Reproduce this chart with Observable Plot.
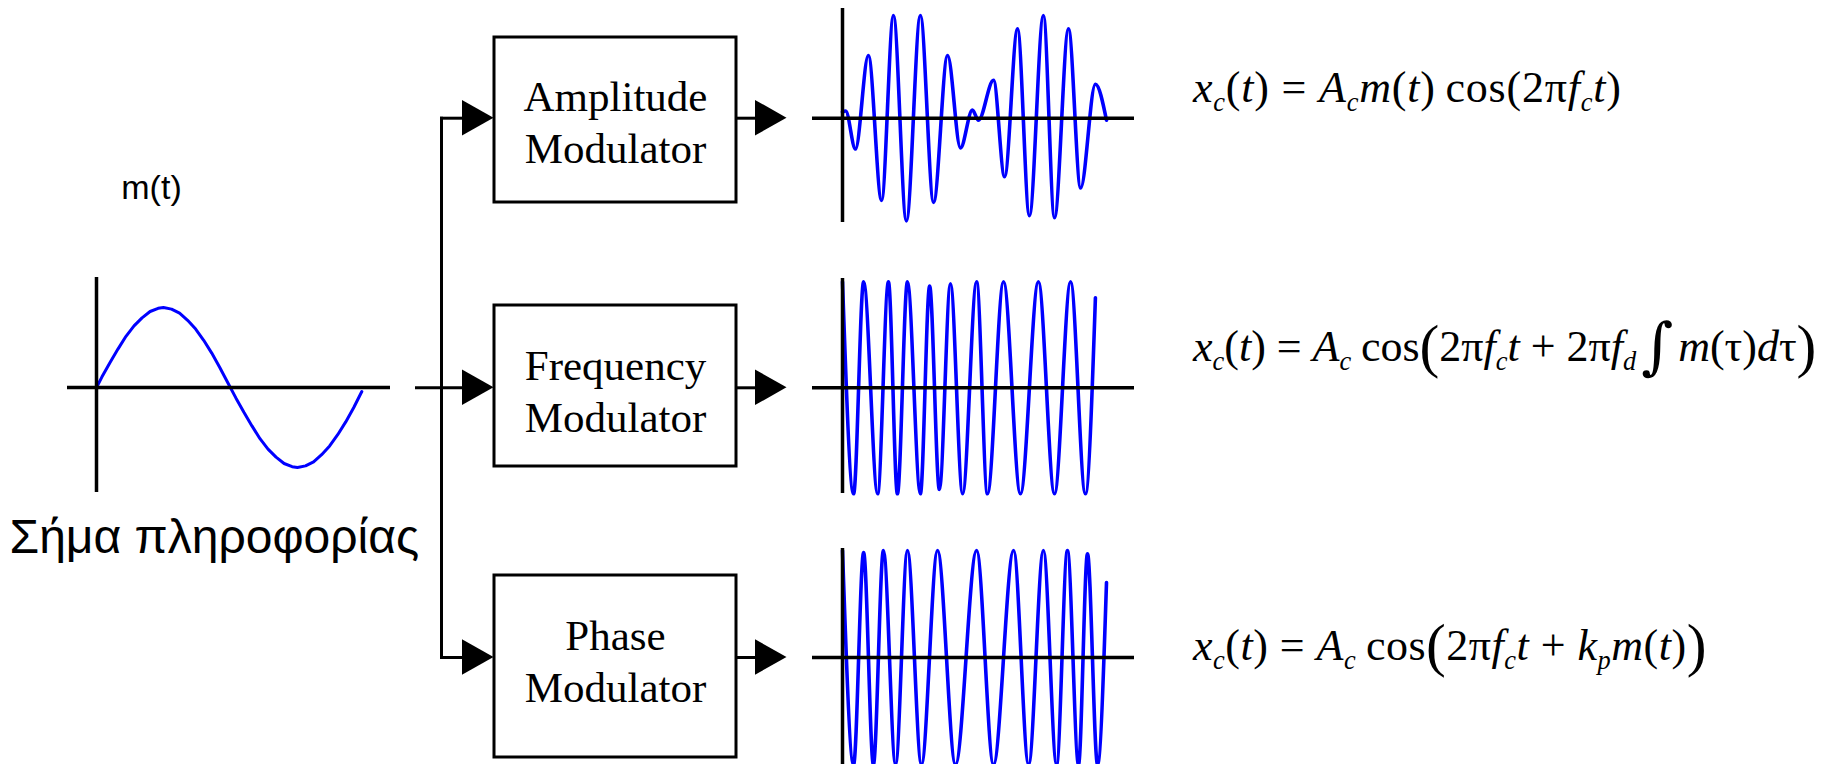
<!DOCTYPE html>
<html><head><meta charset="utf-8">
<script src="https://cdn.jsdelivr.net/npm/d3@7"></script>
<script src="https://cdn.jsdelivr.net/npm/@observablehq/plot@0.6"></script>
<style>
html,body{margin:0;padding:0;background:#fff;}
#wrap{position:relative;width:1837px;height:764px;overflow:hidden;background:#fff;}
#wrap svg{position:absolute;overflow:visible;background:transparent;}
.eq{position:absolute;font-family:"Liberation Serif","Times New Roman",serif;font-size:44px;line-height:1;white-space:nowrap;color:#000;}
.eq sub{font-size:0.6em;vertical-align:-0.34em;line-height:0;font-style:italic;}
.eq .big{font-size:1.35em;line-height:0;vertical-align:-0.08em;}
.eq .int{font-size:1.4em;line-height:0;vertical-align:-0.1em;font-family:"DejaVu Serif",serif;margin:0 0.08em;}
.eq .sp{display:inline-block;width:0.22em;}
</style>
</head><body>
<div id="wrap"></div>
<script>
// ---------- data ----------
const msgT = [0, 0.02, 0.05, 0.08, 0.11, 0.14, 0.17, 0.20, 0.23, 0.25, 0.28, 0.31, 0.34, 0.37, 0.40, 0.43, 0.46, 0.49, 0.52, 0.55, 0.58, 0.61, 0.64, 0.67, 0.70, 0.73, 0.75, 0.78, 0.81, 0.84, 0.87, 0.90, 0.93, 0.96, 0.99];
const msgV = [0, 0.13, 0.31, 0.48, 0.64, 0.77, 0.87, 0.95, 0.99, 1.0, 0.98, 0.93, 0.84, 0.73, 0.59, 0.43, 0.25, 0.06, -0.13, -0.31, -0.48, -0.64, -0.77, -0.87, -0.95, -0.99, -1.0, -0.98, -0.93, -0.84, -0.73, -0.59, -0.43, -0.25, -0.05];

const amT = [0, 0.012, 0.049, 0.098, 0.148, 0.193, 0.242, 0.295, 0.345, 0.398, 0.447, 0.492, 0.515, 0.572, 0.614, 0.663, 0.708, 0.761, 0.803, 0.856, 0.902, 0.958, 1.0];
const amV = [0.06, 0.07, -0.30, 0.61, -0.80, 1.0, -1.0, 1.0, -0.82, 0.61, -0.29, 0.08, -0.02, 0.37, -0.57, 0.87, -0.95, 1.0, -0.97, 0.87, -0.68, 0.33, -0.02];

const fmT = [0, 0.042, 0.080, 0.133, 0.174, 0.208, 0.246, 0.295, 0.330, 0.367, 0.409, 0.455, 0.508, 0.549, 0.610, 0.674, 0.742, 0.803, 0.864, 0.920, 0.958];
const fmV = [1.0, -1.0, 1.0, -1.0, 1.0, -1.0, 1.0, -1.0, 0.96, -0.96, 0.98, -1.0, 1.0, -1.0, 1.0, -1.0, 1.0, -1.0, 1.0, -1.0, 0.85];

const pmT = [0, 0.042, 0.080, 0.117, 0.155, 0.201, 0.246, 0.299, 0.360, 0.428, 0.508, 0.572, 0.648, 0.705, 0.761, 0.811, 0.852, 0.894, 0.928, 0.966, 1.0];
const pmV = [1.0, -1.0, 0.98, -1.0, 1.0, -1.0, 1.0, -1.0, 1.0, -1.0, 1.0, -1.0, 1.0, -1.0, 1.0, -1.0, 1.0, -1.0, 0.97, -1.0, 0.70];

const blockLabels = ["Amplitude\nModulator", "Frequency\nModulator", "Phase\nModulator"];
const inputLabel = "m(t)";
const captionLabel = "Σήμα πληροφορίας";
const equations = [
  '<i>x</i><sub>c</sub>(<i>t</i>) = <i>A</i><sub>c</sub><i>m</i>(<i>t</i>)<span class="sp"></span>cos(2π<i>f</i><sub>c</sub><i>t</i>)',
  '<i>x</i><sub>c</sub>(<i>t</i>) = <i>A</i><sub>c</sub><span class="sp"></span>cos<span class="big">(</span>2π<i>f</i><sub>c</sub><i>t</i> + 2π<i>f</i><sub>d</sub><span class="int">∫</span><i>m</i>(τ)<i>d</i>τ<span class="big">)</span>',
  '<i>x</i><sub>c</sub>(<i>t</i>) = <i>A</i><sub>c</sub><span class="sp"></span>cos<span class="big">(</span>2π<i>f</i><sub>c</sub><i>t</i> + <i>k</i><sub>p</sub><i>m</i>(<i>t</i>)<span class="big">)</span>'
];

// ---------- layout ----------
const W = 1837, H = 764;
const rowY = [117.7, 387.3, 657];
const boxTop = [37, 305, 575], boxBottom = [202, 466, 757];
const boxX1 = 494, boxX2 = 736;
const axisTop = [8, 278, 548], axisBottom = [222, 493, 764];
const ampUnit = [102.7, 106, 107];
const waveX0 = 842, waveUnit = 264, waveAxisX1 = 812, waveAxisX2 = 1134;
const eqLeft = 1193, eqBaseline = [103, 362, 661], eqSize = 44, eqSpacing = [0.8, 0, 0.5];

const wrap = document.getElementById("wrap");

// ---------- base block diagram ----------
const boxes = blockLabels.map((label, i) => ({label, x1: boxX1, x2: boxX2, y1: boxTop[i], y2: boxBottom[i], cx: (boxX1 + boxX2) / 2, ly: rowY[i] + 2}));
const splitX = 441, inStart = 416, inBase = 462, outBase = 755, arrowLen = 31.5, arrowHalf = 17.8;
const segs = [
  {x1: inStart, y1: rowY[1], x2: inBase, y2: rowY[1]},
  {x1: splitX, y1: rowY[0], x2: splitX, y2: rowY[2]},
  {x1: splitX, y1: rowY[0], x2: inBase, y2: rowY[0]},
  {x1: splitX, y1: rowY[2], x2: inBase, y2: rowY[2]},
  ...rowY.map(y => ({x1: boxX2, y1: y, x2: outBase + 2, y2: y}))
];
const tri = [];
rowY.forEach((y, i) => {
  [inBase, outBase].forEach((b, j) => {
    const id = i * 2 + j;
    tri.push({id, x: b, lo: y - arrowHalf, hi: y + arrowHalf});
    tri.push({id, x: b + arrowLen, lo: y, hi: y});
  });
});

const base = Plot.plot({
  width: W, height: H,
  marginTop: 0, marginRight: 0, marginBottom: 0, marginLeft: 0,
  x: {domain: [0, W], range: [0, W], axis: null},
  y: {domain: [0, H], range: [0, H], axis: null},
  style: {background: "transparent", overflow: "visible"},
  marks: [
    Plot.rect(boxes, {x1: "x1", x2: "x2", y1: "y1", y2: "y2", fill: "white", stroke: "black", strokeWidth: 3}),
    Plot.link(segs, {x1: "x1", y1: "y1", x2: "x2", y2: "y2", stroke: "black", strokeWidth: 3, strokeLinecap: "square"}),
    Plot.areaY(tri, {x: "x", y1: "lo", y2: "hi", z: "id", fill: "black", curve: "linear"}),
    Plot.text(boxes, {x: "cx", y: "ly", text: "label", fontFamily: "Liberation Serif, Times New Roman, serif", fontSize: 43, lineHeight: 1.21, textAnchor: "middle", lineAnchor: "middle", fill: "black"}),
    Plot.text([inputLabel], {x: 151, y: 188, text: d => d, fontFamily: "Liberation Sans, Arial, sans-serif", fontSize: 34, textAnchor: "middle", fill: "black"}),
    Plot.text([captionLabel], {x: 9, y: 537, text: d => d, fontFamily: "Liberation Sans, Arial, sans-serif", fontSize: 48, textAnchor: "start", fill: "black"})
  ]
});
base.style.left = "0px"; base.style.top = "0px";
wrap.appendChild(base);

// ---------- waveform panels ----------
function panel(T, V, opt) {
  const data = T.map((t, i) => ({t, v: V[i]}));
  const w = opt.x2 - opt.x1, h = opt.bottom - opt.top;
  const p = Plot.plot({
    width: w, height: h,
    marginTop: 0, marginRight: 0, marginBottom: 0, marginLeft: 0,
    x: {domain: [(opt.x1 - opt.x0) / opt.unitX, (opt.x2 - opt.x0) / opt.unitX], axis: null},
    y: {domain: [-(opt.bottom - opt.axisY) / opt.unitY, (opt.axisY - opt.top) / opt.unitY], axis: null},
    style: {background: "transparent", overflow: "visible"},
    marks: [
      Plot.line(data, {x: "t", y: "v", stroke: "#0000ff", strokeWidth: opt.sw, curve: opt.curve, strokeLinejoin: "round"}),
      Plot.ruleY([0], {stroke: "black", strokeWidth: 3.5}),
      Plot.ruleX([0], {stroke: "black", strokeWidth: 3.5})
    ]
  });
  p.style.left = opt.x1 + "px"; p.style.top = opt.top + "px";
  wrap.appendChild(p);
}

panel(msgT, msgV, {x1: 67, x2: 390, x0: 96, unitX: 268, top: 277, bottom: 492, axisY: 387, unitY: 80, sw: 3, curve: "linear"});
[[amT, amV], [fmT, fmV], [pmT, pmV]].forEach(([T, V], i) => {
  panel(T, V, {x1: waveAxisX1, x2: waveAxisX2, x0: waveX0, unitX: waveUnit, top: axisTop[i], bottom: axisBottom[i], axisY: rowY[i], unitY: ampUnit[i], sw: 3.6, curve: "monotone-x"});
});

// ---------- equations ----------
equations.forEach((html, i) => {
  const d = document.createElement("div");
  d.className = "eq";
  d.innerHTML = html;
  d.style.left = eqLeft + "px";
  d.style.letterSpacing = eqSpacing[i] + "px";
  d.style.top = (eqBaseline[i] - 0.8375 * eqSize) + "px";
  wrap.appendChild(d);
});
</script>
</body></html>
